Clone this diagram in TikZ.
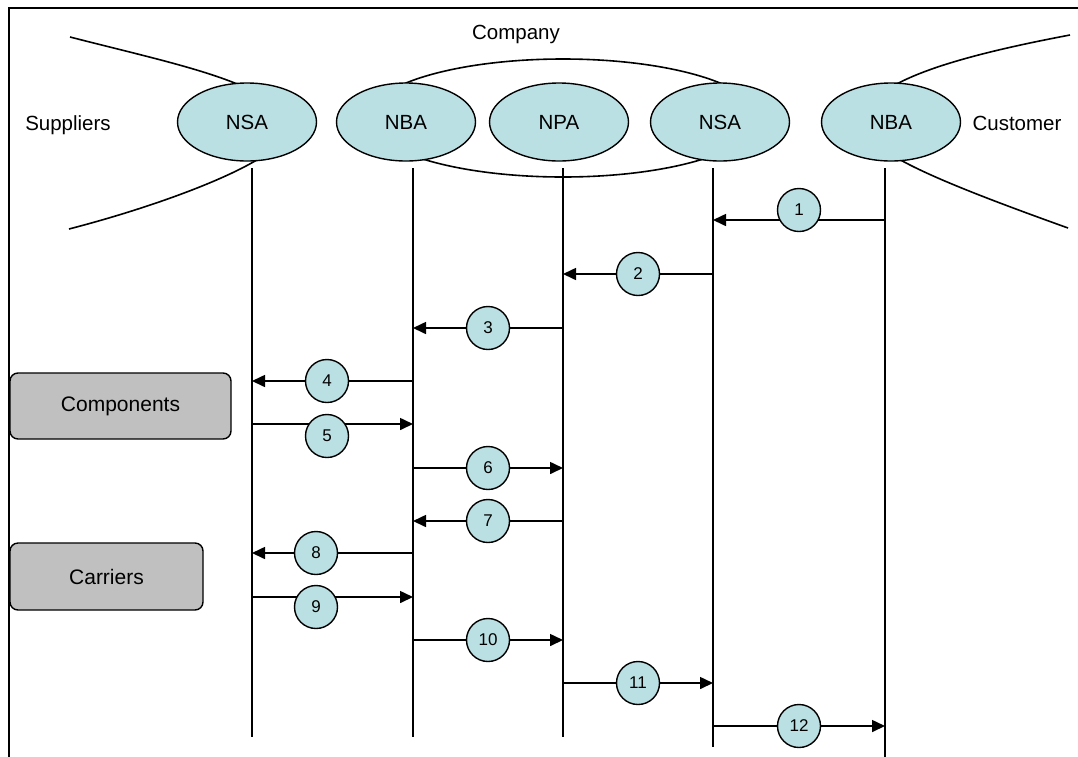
\documentclass[tikz,border=0pt]{standalone}
\usepackage{fontspec}
\setmainfont{Liberation Sans}
\usetikzlibrary{arrows.meta,shapes.geometric}
\definecolor{ellfill}{HTML}{BBE0E3}
\definecolor{boxgray}{HTML}{C0C0C0}
\begin{document}
\begin{tikzpicture}[x=1pt,y=-1pt,line width=1.6pt,
  ell/.style={ellipse,draw,fill=ellfill,minimum width=139pt,minimum height=78pt,inner sep=0pt,line width=1.4pt,font=\fontsize{20.5}{24}\selectfont},
  bigell/.style={ellipse,draw,minimum width=390pt,minimum height=118pt,inner sep=0pt,line width=1.6pt},
  num/.style={circle,draw,fill=ellfill,minimum size=43pt,inner sep=0pt,line width=1.4pt,font=\fontsize{17}{19}\selectfont},
  msg/.style={line width=1.6pt,-{Triangle[length=13pt,width=12pt]}},
  life/.style={line width=1.6pt},
  lbl/.style={inner sep=0pt,font=\fontsize{20.5}{24}\selectfont},
  gbox/.style={draw,fill=boxgray,rounded corners=8pt,line width=1.4pt,inner sep=0pt,font=\fontsize{21}{24}\selectfont}]
\useasboundingbox (0,0) rectangle (1078,756);
\clip (0,0) rectangle (1078,756);
% frame
\draw[line width=1.6pt] (9,8) rectangle (1200,900);
% supplier / customer boundary curves
\draw (70,37) .. controls (140,55) and (200,68) .. (242,86);
\draw (69,229) .. controls (150,208) and (225,180) .. (260,158);
\draw (893,86) .. controls (925,68) and (980,52) .. (1070,35);
\draw (897,158) .. controls (930,177) and (990,200) .. (1068,228);
% company ellipse
\node[bigell] (company) at (563,118) {};
% agent ellipses
\node[ell] (nsa1) at (247,122) {NSA};
\node[ell] (nba1) at (406,122) {NBA};
\node[ell] (npa) at (559,122) {NPA};
\node[ell] (nsa2) at (720,122) {NSA};
\node[ell] (nba2) at (891,122) {NBA};
% labels
\node[lbl,anchor=base] (lcomp) at (516,39) {Company};
\node[lbl,anchor=base] (lsup) at (68,130) {Suppliers};
\node[lbl,anchor=base] (lcus) at (1017,130) {Customer};
% lifelines
\coordinate (t1) at (252,168); \coordinate (b1) at (252,737);
\coordinate (t2) at (413,168); \coordinate (b2) at (413,737);
\coordinate (t3) at (563,168); \coordinate (b3) at (563,737);
\coordinate (t4) at (713,168); \coordinate (b4) at (713,747);
\coordinate (t5) at (885,168); \coordinate (b5) at (885,770);
\draw[life] (t1) -- (b1);
\draw[life] (t2) -- (b2);
\draw[life] (t3) -- (b3);
\draw[life] (t4) -- (b4);
\draw[life] (t5) -- (b5);
% messages
\draw[msg] (t5 |- 0,220) -- (t4 |- 0,220);
\draw[msg] (t4 |- 0,274) -- (t3 |- 0,274);
\draw[msg] (t3 |- 0,328) -- (t2 |- 0,328);
\draw[msg] (t2 |- 0,381) -- (t1 |- 0,381);
\draw[msg] (t1 |- 0,424) -- (t2 |- 0,424);
\draw[msg] (t2 |- 0,468) -- (t3 |- 0,468);
\draw[msg] (t3 |- 0,521) -- (t2 |- 0,521);
\draw[msg] (t2 |- 0,553) -- (t1 |- 0,553);
\draw[msg] (t1 |- 0,597) -- (t2 |- 0,597);
\draw[msg] (t2 |- 0,640) -- (t3 |- 0,640);
\draw[msg] (t3 |- 0,683) -- (t4 |- 0,683);
\draw[msg] (t4 |- 0,726) -- (t5 |- 0,726);
% numbered circles
\node[num] (n1) at (799,210) {1};
\node[num] (n2) at (638,274) {2};
\node[num] (n3) at (488,328) {3};
\node[num] (n4) at (327,381) {4};
\node[num] (n5) at (327,436) {5};
\node[num] (n6) at (488,468) {6};
\node[num] (n7) at (488,521) {7};
\node[num] (n8) at (316,553) {8};
\node[num] (n9) at (316,607) {9};
\node[num] (n10) at (488,640) {10};
\node[num] (n11) at (638,683) {11};
\node[num] (n12) at (799,726) {12};
% grey boxes
\node[gbox,minimum width=221pt,minimum height=66pt] (comp) at (120.5,406) {Components};
\node[gbox,minimum width=193pt,minimum height=67pt] (carr) at (106.5,576.5) {Carriers};
\end{tikzpicture}
\end{document}
